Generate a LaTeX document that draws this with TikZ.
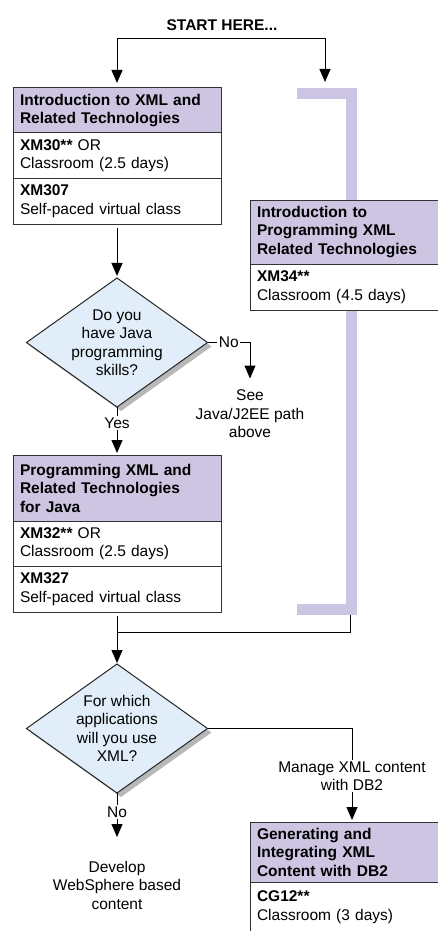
\documentclass[tikz,border=0pt]{standalone}
\usepackage{fontspec}
\setmainfont{Liberation Sans}
\usepackage{xcolor}
\usetikzlibrary{arrows.meta,positioning,shapes.geometric,shadows}
\definecolor{hdrfill}{RGB}{205,197,226}
\definecolor{qfill}{RGB}{225,238,249}
\definecolor{brkfill}{RGB}{205,197,228}

\begin{document}
\begin{tikzpicture}[
  x=1pt,y=1pt,
  font=\fontsize{15.5}{18.5}\selectfont,
  head/.style={draw=black!80,line width=1pt,fill=hdrfill,font=\fontsize{15.5}{18.5}\selectfont\bfseries,
               text width=#1,align=left,inner xsep=7pt,inner ysep=3pt,outer sep=0pt},
  row/.style={draw=black!80,line width=1pt,fill=white,text width=#1,align=left,
              inner xsep=7pt,inner ysep=3pt,minimum height=45.5pt,outer sep=0pt},
  quest/.style={diamond,draw=black!85,line width=1pt,fill=qfill,minimum width=181pt,
                minimum height=129pt,inner sep=-12pt,align=center,outer sep=0pt,
                drop shadow={shadow xshift=4pt,shadow yshift=-4pt,fill=black!28,opacity=1}},
  flow/.style={-{Triangle[length=13pt,width=11pt]},line width=1pt},
  wire/.style={line width=1pt},
  lbl/.style={fill=white,inner sep=1.5pt,align=center},
  note/.style={align=center,inner xsep=0pt,inner ysep=9pt}
]
\useasboundingbox (0,0) rectangle (438,-931);

% purple bracket behind the right-hand course
\draw[brkfill,line width=11.5pt] (297,-93.75) -- (351.25,-93.75) -- (351.25,-609.25) -- (297,-609.25);

\node[font=\fontsize{15.5}{18.5}\selectfont\bfseries] (start) at (222,-25) {START HERE...};
\coordinate (fork) at (221,-39);
\coordinate (brk-in) at (325,-82);
\coordinate (brk-out) at (350,-615);

% left column
\node[head=194pt,minimum height=45pt,anchor=north west] (xml-head) at (13,-88)
  {Introduction to XML and\\Related Technologies};
\node[row=194pt,below=0pt of xml-head] (xml-cls) {\textbf{XM30**} OR\\Classroom (2.5 days)};
\node[row=194pt,below=0pt of xml-cls] (xml-self) {\textbf{XM307}\\Self-paced virtual class};
\node[quest,below=54pt of xml-self] (java-q) {Do you\\have Java\\programming\\skills?};
\node[note,anchor=north] (see-java) at (250,-380.5) {See\\Java/J2EE path\\above};
\node[head=194pt,minimum height=66pt,below=48pt of java-q] (jxml-head)
  {Programming XML and\\Related Technologies\\for Java};
\node[row=194pt,below=0pt of jxml-head] (jxml-cls) {\textbf{XM32**} OR\\Classroom (2.5 days)};
\node[row=194pt,below=0pt of jxml-cls] (jxml-self) {\textbf{XM327}\\Self-paced virtual class};
\node[quest,below=52pt of jxml-self] (apps-q) {For which\\applications\\will you use\\XML?};
\node[note,below=59pt of apps-q] (dev-ws) {Develop\\WebSphere based\\content};

% right column
\node[head=176pt,minimum height=64pt,anchor=north west] (prog-head) at (250,-200)
  {Introduction to\\Programming XML\\Related Technologies};
\node[row=176pt,minimum height=46pt,below=0pt of prog-head] (prog-cls) {\textbf{XM34**}\\Classroom (4.5 days)};
\node[head=176pt,minimum height=60pt,anchor=north west] (db2-head) at (250,-822)
  {Generating and\\Integrating XML\\Content with DB2};
\node[row=176pt,minimum height=50pt,below=0pt of db2-head] (db2-cls) {\textbf{CG12**}\\Classroom (3 days)};
\coordinate (db2-in) at ([xshift=7pt]db2-head.north);

\draw[flow,shorten >=5pt] (fork) -| (xml-head);
\draw[flow] (fork) -| (brk-in);
\draw[flow,shorten <=4pt,shorten >=2pt] (xml-self) -- (java-q);
\draw[flow,shorten >=2pt] (java-q.east) -- node[lbl]{No} (java-q.east -| see-java.north) -- (see-java.north);
\draw[flow,shorten >=2pt] (java-q) -- node[lbl,pos=0.33]{Yes} (jxml-head);
\draw[wire] (brk-out) |- ([yshift=-20pt]jxml-self.south);
\draw[flow,shorten <=4pt,shorten >=1pt] (jxml-self) -- (apps-q);
\draw[flow,shorten >=15pt] (apps-q) -- node[lbl,pos=0.32]{No} (dev-ws);
\draw[flow,shorten >=2pt] (apps-q.east) -| node[lbl,pos=0.755]{Manage XML content\\with DB2} (db2-in);
\end{tikzpicture}
\end{document}
